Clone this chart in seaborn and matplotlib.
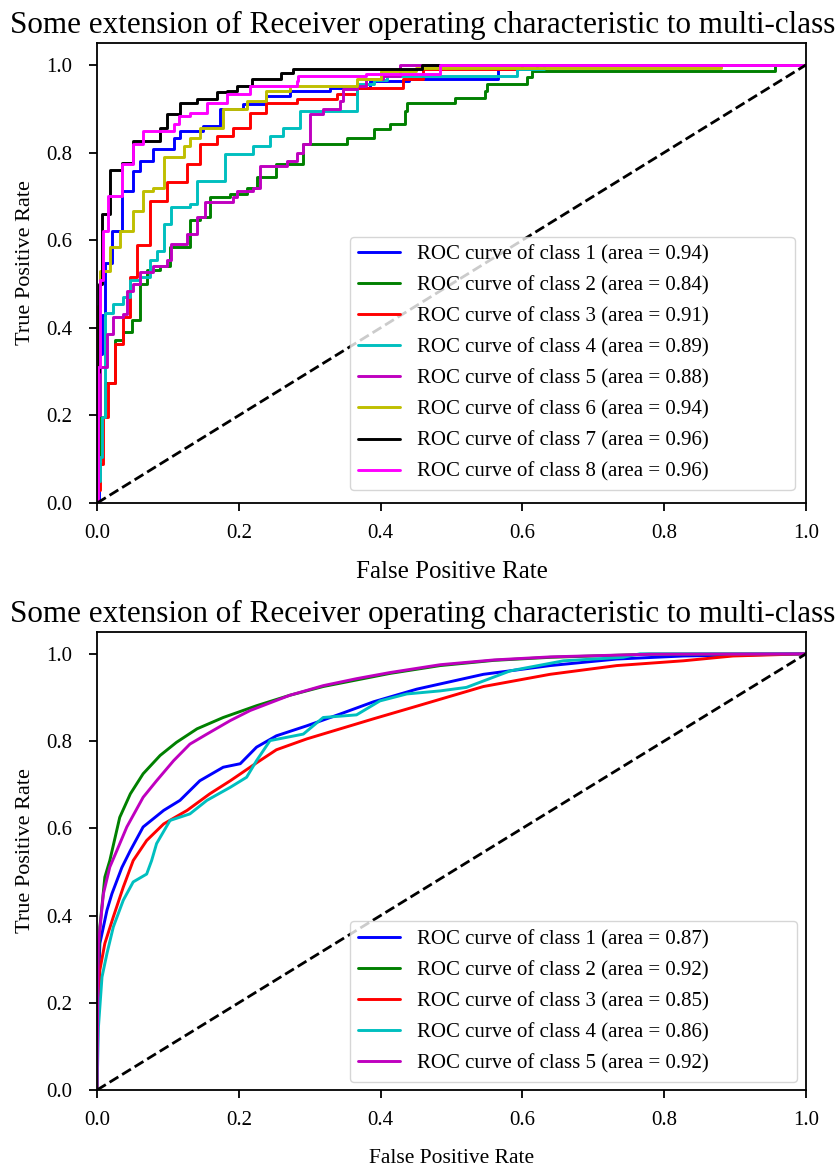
import matplotlib
matplotlib.use("Agg")
import matplotlib.pyplot as plt
import seaborn as sns

# ---- top panel: 8 classes (fpr, tpr) ----
fpr1 = [0, 0.003, 0.007, 0.011, 0.021, 0.035, 0.051, 0.061, 0.079, 0.108, 0.117, 0.150, 0.173, 0.206, 0.239, 0.272, 0.329, 0.385, 0.440, 0.565, 0.565, 0.62, 1.0]
tpr1 = [0, 0.34, 0.43, 0.547, 0.62, 0.713, 0.758, 0.781, 0.808, 0.834, 0.85, 0.861, 0.899, 0.911, 0.929, 0.941, 0.948, 0.963, 0.968, 0.97, 0.99, 1.0, 1.0]
fpr2 = [0, 0.002, 0.004, 0.011, 0.025, 0.037, 0.049, 0.061, 0.070, 0.089, 0.103, 0.131, 0.145, 0.159, 0.188, 0.211, 0.225, 0.253, 0.291, 0.352, 0.39, 0.413, 0.434, 0.437, 0.505, 0.547, 0.55, 0.606, 0.613, 0.956, 0.956, 1.0]
tpr2 = [0, 0.1, 0.197, 0.273, 0.371, 0.39, 0.417, 0.50, 0.531, 0.542, 0.584, 0.645, 0.652, 0.698, 0.706, 0.72, 0.743, 0.774, 0.819, 0.834, 0.853, 0.865, 0.895, 0.912, 0.925, 0.941, 0.956, 0.972, 0.986, 0.986, 1.0, 1.0]
fpr3 = [0, 0.002, 0.004, 0.009, 0.016, 0.025, 0.037, 0.047, 0.056, 0.075, 0.098, 0.127, 0.145, 0.169, 0.192, 0.216, 0.239, 0.282, 0.338, 0.366, 0.432, 0.46, 0.53, 0.60, 1.0]
tpr3 = [0, 0.03, 0.09, 0.197, 0.273, 0.364, 0.424, 0.515, 0.59, 0.69, 0.732, 0.774, 0.819, 0.838, 0.857, 0.891, 0.914, 0.922, 0.933, 0.948, 0.968, 0.99, 0.99, 1.0, 1.0]
fpr4 = [0, 0.002, 0.004, 0.007, 0.011, 0.023, 0.037, 0.047, 0.061, 0.075, 0.084, 0.094, 0.105, 0.131, 0.141, 0.178, 0.18, 0.22, 0.244, 0.263, 0.286, 0.366, 0.366, 0.39, 0.409, 0.592, 0.592, 0.63, 1.0]
tpr4 = [0, 0.05, 0.105, 0.197, 0.433, 0.455, 0.47, 0.508, 0.515, 0.554, 0.576, 0.637, 0.675, 0.683, 0.736, 0.736, 0.797, 0.815, 0.838, 0.857, 0.895, 0.899, 0.956, 0.965, 0.975, 0.982, 0.99, 1.0, 1.0]
fpr5 = [0, 0.002, 0.004, 0.014, 0.023, 0.037, 0.042, 0.051, 0.061, 0.079, 0.098, 0.105, 0.127, 0.141, 0.152, 0.192, 0.197, 0.22, 0.23, 0.268, 0.282, 0.291, 0.30, 0.319, 0.343, 0.347, 0.366, 0.38, 0.404, 0.427, 1.0]
tpr5 = [0, 0.2, 0.31, 0.386, 0.424, 0.432, 0.485, 0.50, 0.527, 0.542, 0.554, 0.592, 0.615, 0.652, 0.686, 0.698, 0.713, 0.72, 0.77, 0.781, 0.80, 0.819, 0.888, 0.899, 0.918, 0.944, 0.952, 0.967, 0.975, 1.0, 1.0]
fpr6 = [0, 0.002, 0.004, 0.018, 0.032, 0.051, 0.065, 0.079, 0.094, 0.122, 0.131, 0.145, 0.178, 0.211, 0.239, 0.272, 0.366, 0.40, 0.45, 0.88, 0.88, 1.0]
tpr6 = [0, 0.45, 0.53, 0.584, 0.622, 0.667, 0.713, 0.72, 0.789, 0.815, 0.834, 0.857, 0.899, 0.918, 0.941, 0.952, 0.967, 0.986, 0.994, 0.994, 1.0, 1.0]
fpr7 = [0, 0.001, 0.003, 0.007, 0.018, 0.035, 0.051, 0.089, 0.098, 0.117, 0.141, 0.169, 0.183, 0.197, 0.218, 0.26, 0.277, 0.458, 0.458, 1.0]
tpr7 = [0, 0.3, 0.5, 0.66, 0.76, 0.775, 0.827, 0.857, 0.888, 0.914, 0.922, 0.937, 0.941, 0.952, 0.967, 0.982, 0.99, 0.99, 1.0, 1.0]
fpr8 = [0, 0.002, 0.004, 0.009, 0.016, 0.035, 0.051, 0.065, 0.108, 0.115, 0.131, 0.155, 0.183, 0.216, 0.282, 0.284, 0.38, 0.484, 0.484, 1.0]
tpr8 = [0, 0.31, 0.508, 0.62, 0.70, 0.774, 0.819, 0.85, 0.865, 0.884, 0.891, 0.914, 0.933, 0.952, 0.963, 0.975, 0.979, 0.979, 1.0, 1.0]
auc_top = [0.94, 0.84, 0.91, 0.89, 0.88, 0.94, 0.96, 0.96]
colors_top = ['blue', 'green', 'red', 'c', 'm', 'y', 'black', 'magenta']

# ---- bottom panel: 5 classes ----
fprb1 = [0, 0.001, 0.004, 0.014, 0.021, 0.035, 0.047, 0.065, 0.094, 0.117, 0.145, 0.178, 0.202, 0.225, 0.253, 0.296, 0.343, 0.39, 0.451, 0.545, 0.639, 0.733, 0.827, 0.968, 1.0]
tprb1 = [0, 0.2, 0.336, 0.412, 0.45, 0.51, 0.549, 0.603, 0.641, 0.664, 0.709, 0.74, 0.748, 0.786, 0.812, 0.835, 0.862, 0.89, 0.919, 0.953, 0.973, 0.988, 0.995, 0.999, 1.0]
fprb2 = [0, 0.001, 0.004, 0.011, 0.018, 0.032, 0.047, 0.065, 0.089, 0.112, 0.141, 0.178, 0.225, 0.272, 0.319, 0.366, 0.413, 0.484, 0.56, 0.64, 0.78, 1.0]
tprb2 = [0, 0.25, 0.374, 0.488, 0.526, 0.625, 0.679, 0.725, 0.767, 0.797, 0.828, 0.854, 0.881, 0.905, 0.925, 0.94, 0.955, 0.973, 0.985, 0.992, 0.999, 1.0]
fprb3 = [0, 0.001, 0.004, 0.011, 0.023, 0.037, 0.051, 0.07, 0.094, 0.127, 0.159, 0.188, 0.225, 0.253, 0.296, 0.343, 0.39, 0.451, 0.545, 0.639, 0.733, 0.827, 0.897, 1.0]
tprb3 = [0, 0.15, 0.275, 0.336, 0.397, 0.465, 0.526, 0.572, 0.61, 0.641, 0.679, 0.709, 0.75, 0.78, 0.805, 0.828, 0.851, 0.88, 0.925, 0.953, 0.973, 0.984, 0.995, 1.0]
fprb4 = [0, 0.002, 0.007, 0.014, 0.023, 0.037, 0.051, 0.07, 0.077, 0.084, 0.103, 0.131, 0.155, 0.188, 0.211, 0.225, 0.244, 0.291, 0.319, 0.366, 0.399, 0.437, 0.484, 0.521, 0.583, 0.658, 0.742, 0.766, 1.0]
tprb4 = [0, 0.145, 0.259, 0.313, 0.374, 0.435, 0.477, 0.495, 0.526, 0.565, 0.618, 0.633, 0.664, 0.694, 0.717, 0.755, 0.801, 0.816, 0.854, 0.86, 0.892, 0.908, 0.915, 0.923, 0.961, 0.984, 0.992, 1.0, 1.0]
fprb5 = [0, 0.001, 0.002, 0.009, 0.018, 0.028, 0.042, 0.065, 0.084, 0.108, 0.131, 0.155, 0.188, 0.216, 0.272, 0.319, 0.366, 0.413, 0.484, 0.56, 0.64, 0.78, 1.0]
tprb5 = [0, 0.2, 0.336, 0.45, 0.511, 0.549, 0.603, 0.671, 0.709, 0.755, 0.793, 0.816, 0.847, 0.87, 0.905, 0.927, 0.943, 0.957, 0.975, 0.986, 0.993, 0.999, 1.0]
auc_bottom = [0.87, 0.92, 0.85, 0.86, 0.92]
colors_bottom = ['blue', 'green', 'red', 'c', 'm']

title = 'Some extension of Receiver operating characteristic to multi-class'

sns.set_style('ticks', {'axes.edgecolor': 'black', 'xtick.color': 'black',
                        'ytick.color': 'black', 'text.color': 'black',
                        'axes.labelcolor': 'black'})
plt.rcParams['font.family'] = ['Liberation Serif', 'DejaVu Serif']
plt.rcParams['axes.linewidth'] = 1.3


def draw_panel(ax, curves, aucs, colors, steps, xlabel_size, xlabel_pad, leg_box):
    for (fpr, tpr), auc, col in zip(curves, aucs, colors):
        idx = len(ax.lines) + 1
        sns.lineplot(x=fpr, y=tpr, ax=ax, color=col, lw=2.1, sort=False,
                     estimator=None,
                     drawstyle='steps-post' if steps else 'default',
                     label=f'ROC curve of class {idx} (area = {auc:.2f})')
    # 对角线
    ax.plot([0, 1], [0, 1], 'k--', lw=2)
    ax.set_xlim(0.0, 1.0)
    ax.set_ylim(0.0, 1.05)
    ax.set_xticks([0, 0.2, 0.4, 0.6, 0.8, 1.0])
    ax.set_yticks([0, 0.2, 0.4, 0.6, 0.8, 1.0])
    ax.tick_params(labelsize=15, width=1.3, length=6)
    ax.tick_params(axis='x', pad=9)
    ax.tick_params(axis='y', pad=12)
    ax.set_xlabel('False Positive Rate', fontsize=xlabel_size, labelpad=xlabel_pad)
    ax.set_ylabel('True Positive Rate', fontsize=16)
    ax.yaxis.set_label_coords(-0.088, 0.522)
    ax.set_title(title, fontsize=22.4, x=0.459, pad=7)
    ax.legend(loc='lower left', bbox_to_anchor=leg_box, mode='expand',
              fontsize=15, labelspacing=0.55, borderaxespad=0.0)


fig = plt.figure(figsize=(8.38, 11.68), dpi=100)
ax1 = fig.add_axes([0.1158, 0.5693, 0.846, 0.3939])
ax2 = fig.add_axes([0.1158, 0.0668, 0.846, 0.3921])

draw_panel(ax1,
           [(fpr1, tpr1), (fpr2, tpr2), (fpr3, tpr3), (fpr4, tpr4),
            (fpr5, tpr5), (fpr6, tpr6), (fpr7, tpr7), (fpr8, tpr8)],
           auc_top, colors_top, True, 18, 13, (0.357, 0.028, 0.627, 0.5))
draw_panel(ax2,
           [(fprb1, tprb1), (fprb2, tprb2), (fprb3, tprb3),
            (fprb4, tprb4), (fprb5, tprb5)],
           auc_bottom, colors_bottom, False, 15.5, 14, (0.357, 0.018, 0.63, 0.3))

fig.savefig('out.png', dpi=100)
